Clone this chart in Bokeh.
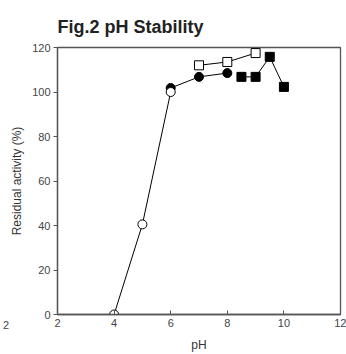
from bokeh.plotting import figure
from bokeh.models import Range1d, FixedTicker, Label
from bokeh.embed import file_html
from bokeh.resources import INLINE

# Data
oc_ph = [4, 5, 6]
oc_val = [0, 40.5, 100]
fc_ph = [6, 7, 8]
fc_val = [101.8, 106.8, 108.5]
os_ph = [7, 8, 9]
os_val = [112, 113.5, 117.5]
fs_ph = [8.5, 9, 9.5, 10]
fs_val = [106.8, 106.8, 115.8, 102.3]
x_ticks = [2, 4, 6, 8, 10, 12]
y_ticks = [0, 20, 40, 60, 80, 100, 120]

FONT = "Liberation Sans"
AX = "#555555"

p = figure(width=346, height=354, output_backend="svg", toolbar_location=None,
           x_range=Range1d(2, 12), y_range=Range1d(0, 120),
           min_border_left=57, min_border_right=6, min_border_top=47,
           min_border_bottom=38, title="Fig.2 pH Stability")
p.title.text_font = FONT
p.title.text_font_size = "18px"
p.title.text_font_style = "bold"
p.title.text_color = "#222222"
p.title.offset = 0
p.title.standoff = 21

p.xgrid.visible = False
p.ygrid.visible = False
p.outline_line_color = AX
p.outline_line_width = 1.3

for ax in (p.xaxis[0], p.yaxis[0]):
    ax.axis_line_color = AX
    ax.axis_line_width = 1.3
    ax.major_tick_line_color = AX
    ax.minor_tick_line_color = None
    ax.major_label_text_font = FONT
    ax.major_label_text_font_size = "11px"
    ax.major_label_text_color = "#444444"
    ax.axis_label_text_font = FONT
    ax.axis_label_text_font_size = "12px"
    ax.axis_label_text_font_style = "normal"
    ax.axis_label_text_color = "#333333"

p.xaxis.ticker = FixedTicker(ticks=x_ticks)
p.yaxis.ticker = FixedTicker(ticks=y_ticks)
p.xaxis.major_tick_in = 4
p.xaxis.major_tick_out = 0
p.yaxis.major_tick_in = 0
p.yaxis.major_tick_out = 4
p.xaxis.major_label_standoff = 4
p.yaxis.major_label_standoff = 3
p.xaxis.axis_label = "pH"
p.yaxis.axis_label = "Residual activity (%)"
p.xaxis.axis_label_standoff = 8
p.yaxis.axis_label_standoff = 5

lw = 1
p.line(fc_ph, fc_val, line_color="black", line_width=lw)
p.line(os_ph, os_val, line_color="black", line_width=lw)
p.line(fs_ph, fs_val, line_color="black", line_width=lw)
p.line(oc_ph, oc_val, line_color="black", line_width=lw)

p.scatter(fc_ph, fc_val, marker="circle", size=9, fill_color="black", line_color="black")
p.scatter(os_ph, os_val, marker="square", size=9, fill_color="white", line_color="black", line_width=1)
p.scatter(fs_ph, fs_val, marker="square", size=9, fill_color="black", line_color="black")
p.scatter(oc_ph, oc_val, marker="circle", size=9, fill_color="white", line_color="black", line_width=1)

stray = Label(x=4.5, y=-10, x_units="screen", y_units="screen", text="2",
              text_font=FONT, text_font_size="11px", level="overlay",
              text_color="#444444", text_align="center", text_baseline="middle")
p.add_layout(stray, "left")

open("out.html", "w").write(file_html(p, INLINE))
